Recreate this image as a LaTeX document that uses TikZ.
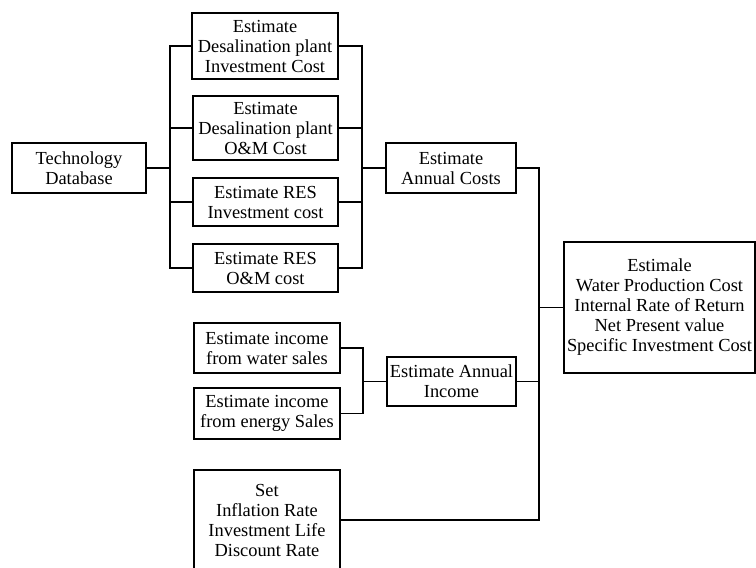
\documentclass[tikz,border=0pt]{standalone}
\usepackage{fontspec}
\setmainfont{Liberation Serif}
\begin{document}
\begin{tikzpicture}[x=1pt,y=-1pt,
  box/.style={draw, line width=1.7pt, inner sep=0pt, align=center,
    font=\fontsize{18.4}{20}\selectfont},
  conn/.style={line width=1.7pt}]
\useasboundingbox[fill=white] (0,0) rectangle (756,568);
% nodes
\node[box, minimum width=134pt, minimum height=50pt] (tech) at (79,168) {Technology\\Database};
\node[box, minimum width=146pt, minimum height=66pt] (b1) at (265,46) {Estimate\\Desalination plant\\Investment Cost};
\node[box, minimum width=145pt, minimum height=64pt] (b2) at (265.5,128) {Estimate\\Desalination plant\\O\&M Cost};
\node[box, minimum width=145pt, minimum height=48pt] (b3) at (265.5,202) {Estimate RES\\Investment cost};
\node[box, minimum width=145pt, minimum height=48pt] (b4) at (265.5,268) {Estimate RES\\O\&M cost};
\node[box, minimum width=130pt, minimum height=50pt] (ac) at (451,168) {Estimate\\Annual Costs};
\node[box, minimum width=191pt, minimum height=131pt] (big) at (659.5,307.5) {Estimale\\Water Production Cost\\Internal Rate of Return\\Net Present value\\Specific Investment Cost};
\node[box, minimum width=146pt, minimum height=50pt] (w) at (267,348) {Estimate income\\from water sales};
\node[box, minimum width=146pt, minimum height=51pt] (e) at (267,413.5) {Estimate income\\from energy Sales};
\node[box, minimum width=129pt, minimum height=49pt] (ai) at (451.5,381.5) {Estimate Annual\\Income};
\node[box, minimum width=146pt, minimum height=100pt] (set) at (267,520) {Set\\Inflation Rate\\Investment Life\\Discount Rate};
% bus positions
\coordinate (busA) at (170,0);
\coordinate (busB) at (362,0);
\coordinate (busC) at (539,0);
\coordinate (busD) at (363,0);
% connectors
\draw[conn] (tech.east) -- (tech.east -| busA);
\draw[conn] (b1.west) -- (b1.west -| busA) -- (b4.west -| busA) -- (b4.west);
\draw[conn] (b2.west) -- (b2.west -| busA);
\draw[conn] (b3.west) -- (b3.west -| busA);
\draw[conn] (b1.east) -- (b1.east -| busB) -- (b4.east -| busB) -- (b4.east);
\draw[conn] (b2.east) -- (b2.east -| busB);
\draw[conn] (b3.east) -- (b3.east -| busB);
\draw[conn] (ac.west) -- (ac.west -| busB);
\draw[conn] (ac.east) -- (ac.east -| busC) -- (set.east -| busC) -- (set.east);
\draw[conn] (ai.east) -- (ai.east -| busC);
\draw[conn] (big.west) -- (big.west -| busC);
\draw[conn] (w.east) -- (w.east -| busD) -- (e.east -| busD) -- (e.east);
\draw[conn] (ai.west) -- (ai.west -| busD);
\end{tikzpicture}
\end{document}
